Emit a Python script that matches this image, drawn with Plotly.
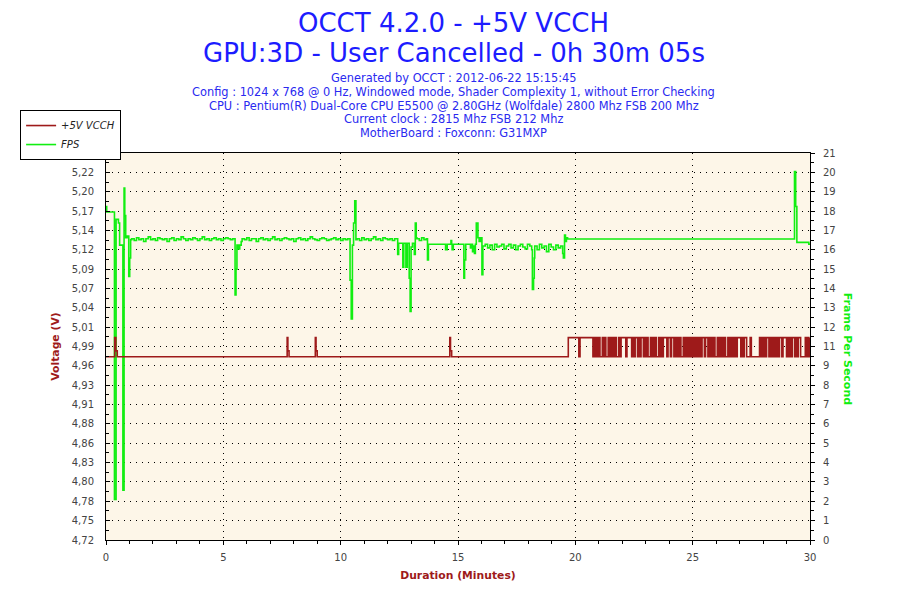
import numpy as np
import plotly.graph_objects as go

# ---- chart data ----
# FPS: isolated events as explicit (minute, fps) pairs
fps_event_t = [0.00, 0.03, 0.36, 0.43, 0.53, 0.58, 0.72, 0.77, 0.80, 0.84, 0.90, 0.97, 1.01, 1.05,
               5.50, 5.54, 5.58, 5.64, 5.70, 5.76,
               10.40, 10.45, 10.50, 10.55, 10.60, 10.65,
               12.43, 12.47, 12.65, 12.69, 12.78, 12.84, 12.92, 12.96, 13.00, 13.06, 13.14, 13.18, 13.22,
               13.70, 13.74, 14.47, 14.54, 14.70, 14.73, 14.75, 14.80, 15.25, 15.28, 15.33,
               15.53, 15.58, 15.62, 15.66, 15.70, 15.74, 15.78, 15.85, 15.90, 15.96, 16.02,
               18.14, 18.17, 18.22, 18.25,
               19.46, 19.49, 19.54, 19.58, 19.62, 19.67, 29.34, 29.39, 29.44, 29.95, 30.00]
fps_event_v = [18.1, 17.8, 2.2, 17.4, 17.2, 16.0, 2.7, 19.1, 17.6, 16.4, 16.5, 14.3, 15.3, 16.3,
               13.3, 14.7, 16.0, 15.8, 16.0, 16.2,
               14.1, 12.0, 16.0, 17.2, 18.4, 16.3,
               15.5, 16.1, 14.8, 16.1, 14.8, 16.1, 14.2, 12.4, 15.9, 16.1, 15.5, 17.2, 16.4,
               15.2, 16.05, 15.75, 16.05, 16.25, 16.05, 15.75, 16.05, 14.2, 15.2, 16.05,
               15.85, 16.05, 15.65, 15.95, 15.55, 16.05, 17.2, 16.4, 16.2, 16.4, 14.4,
               15.75, 13.6, 14.2, 15.3,
               15.55, 15.3, 16.55, 16.2, 16.4, 16.33, 20.0, 18.1, 16.15, 16.05, 16.05]

# FPS: noisy stretches, one sample every 0.1 minute
noise_step = 0.1
noise_a_start = 1.1
noise_a = [16.35, 16.25, 16.4, 16.3, 16.35, 16.2, 16.35, 16.45, 16.3, 16.35,
           16.25, 16.4, 16.35, 16.3, 16.35, 16.2, 16.35, 16.4, 16.25, 16.35,
           16.3, 16.45, 16.35, 16.25, 16.35, 16.3, 16.4, 16.35, 16.25, 16.35,
           16.45, 16.3, 16.35, 16.25, 16.35, 16.4, 16.3, 16.35, 16.25, 16.35,
           16.4, 16.35, 16.3, 16.35]
noise_b_start = 5.8
noise_b = [16.35, 16.3, 16.4, 16.25, 16.35, 16.35, 16.2, 16.35, 16.4, 16.3,
           16.35, 16.25, 16.35, 16.45, 16.3, 16.35, 16.25, 16.35, 16.4, 16.35,
           16.3, 16.35, 16.2, 16.35, 16.4, 16.3, 16.35, 16.25, 16.35, 16.45,
           16.35, 16.3, 16.25, 16.35, 16.4, 16.35, 16.25, 16.3, 16.35, 16.4,
           16.3, 16.35, 16.25, 16.35, 16.3, 16.35]
noise_c_start = 10.7
noise_c = [16.35, 16.25, 16.4, 16.3, 16.35, 16.25, 16.35, 16.45, 16.3, 16.35,
           16.25, 16.4, 16.35, 16.3, 16.35, 16.25, 16.35]
noise_d_start = 13.25
noise_d = [16.35, 16.25, 16.4, 16.3, 16.35]
noise_e_start = 16.06
noise_e = [15.95, 16.05, 15.85, 16.0, 15.75, 16.05, 15.9, 15.95, 16.05, 15.8,
           15.95, 16.05, 15.85, 16.0, 15.75, 15.95, 16.05, 15.9, 15.8, 16.05, 15.95]
noise_f_start = 18.27
noise_f = [15.95, 15.75, 16.05, 15.85, 15.95, 15.65, 16.05, 15.9, 15.75, 16.0, 15.85, 15.95]

# Voltage: isolated events
volt_event_t = [0.00, 0.37, 0.42, 0.48, 7.72, 7.75, 7.80, 8.92, 8.95, 9.00, 14.65, 14.68, 14.73]
volt_event_v = [4.973, 4.999, 4.981, 4.973, 4.999, 4.981, 4.973, 4.999, 4.981, 4.973, 4.999, 4.981, 4.973]

# Voltage after ~19.7 min flips between two readings (1 = high, 0 = low), one sample / 0.05 min
volt_high = 4.999
volt_low = 4.973
volt_flip_start = 19.70
volt_flip_step = 0.05
volt_flips = [1, 1, 1, 1, 1, 1, 1, 1, 1, 0, 1, 1, 1, 1, 1, 1, 1, 1, 1, 1, 1,
              0, 1, 0, 1,
              0, 1, 0, 0, 1, 0, 1, 0, 0, 1, 0, 1, 0,
              1, 0, 1, 0, 0, 1, 0, 1,
              1, 1, 1, 0, 1, 1, 1, 1, 0, 1,
              0, 1, 1, 0, 1, 0, 1, 1,
              0, 1, 0, 1, 0, 0, 1, 0, 1, 0, 1, 0, 0, 1, 0, 1, 0, 1,
              1, 1, 0, 1, 1, 0, 1, 1,
              0, 1, 0, 1, 0, 1, 0, 0, 1, 0, 1, 0, 1, 0, 1, 0, 1,
              0, 1, 0, 1, 0, 1, 0,
              1, 1, 0, 1, 1, 0,
              1, 0, 1, 0, 1, 0, 0, 1, 0, 1, 0, 1, 0, 1, 0, 0, 1, 0, 1, 0, 1, 0, 1, 0, 1,
              1, 1, 0, 1, 0, 1, 1, 0,
              0, 0, 1, 0, 0, 0, 0, 0, 0, 0,
              1, 0, 1, 0, 1, 0, 1, 1, 0, 1, 0, 1, 0, 1, 0, 1, 0,
              1, 1, 0, 1, 1, 1, 0,
              1, 0, 1, 0, 1, 1, 0, 1, 0, 1, 1,
              0, 0, 0, 0,
              1, 0, 1, 0, 1]

# axis tick labels as OCCT prints them
volt_range = [4.724, 5.250]
volt_labels = ["4,72", "4,75", "4,78", "4,80", "4,83", "4,86", "4,88", "4,91", "4,93", "4,96", "4,99",
               "5,01", "5,04", "5,07", "5,09", "5,12", "5,14", "5,17", "5,20", "5,22", "5,25"]
fps_range = [0, 21]
fps_labels = ["0", "1", "2", "3", "4", "5", "6", "7", "8", "9", "11",
              "12", "13", "14", "15", "16", "17", "18", "19", "20", "21"]
minute_ticks = [0, 5, 10, 15, 20, 25, 30]

title_lines = ["OCCT 4.2.0 - +5V VCCH", "GPU:3D - User Cancelled - 0h 30m 05s"]
info_lines = ["Generated by OCCT : 2012-06-22 15:15:45",
              "Config : 1024 x 768 @ 0 Hz, Windowed mode, Shader Complexity 1, without Error Checking",
              "CPU : Pentium(R) Dual-Core CPU E5500 @ 2.80GHz (Wolfdale) 2800 Mhz FSB 200 Mhz",
              "Current clock : 2815 Mhz FSB 212 Mhz",
              "MotherBoard : Foxconn: G31MXP"]

RED = "#9e1a1a"
GREEN = "#11ee11"
BLUE = "#1c1cff"
FONT = "DejaVu Sans"


def build_fps():
    t = list(fps_event_t)
    v = list(fps_event_v)
    for start, vals in [(noise_a_start, noise_a), (noise_b_start, noise_b), (noise_c_start, noise_c),
                        (noise_d_start, noise_d), (noise_e_start, noise_e), (noise_f_start, noise_f)]:
        t += list(start + noise_step * np.arange(len(vals)))
        v += vals
    order = np.argsort(t)
    return np.array(t)[order], np.array(v)[order]


def build_volt():
    flip_t = volt_flip_start + volt_flip_step * np.arange(len(volt_flips))
    flip_v = [volt_high if b else volt_low for b in volt_flips]
    return list(volt_event_t) + list(flip_t), list(volt_event_v) + flip_v


fps_t, fps_v = build_fps()
volt_t, volt_v = build_volt()

fig = go.Figure()
fig.add_trace(go.Scatter(x=volt_t, y=volt_v, mode='lines', name='<i>+5V VCCH</i>',
                         line={'color': RED, 'width': 1.6, 'shape': 'hv'}, yaxis='y2'))
fig.add_trace(go.Scatter(x=fps_t, y=fps_v, mode='lines', name='<i>FPS</i>',
                         line={'color': GREEN, 'width': 1.6, 'shape': 'hv'}, yaxis='y'))

tick_font = dict(family=FONT, size=10, color="#444444")
dotted = "1px,5px"

# page body has an 8px margin, so the figure is sized to sit inside it
fig.update_layout(
    width=884, height=584,
    margin=dict(l=90, r=82, t=145, b=46),
    paper_bgcolor="white",
    plot_bgcolor="#fdf6e8",
    font=dict(family=FONT),
    showlegend=True,
    legend=dict(x=-0.122, y=1.111, xanchor='left', yanchor='top',
                bgcolor="white", bordercolor="black", borderwidth=1,
                font=dict(family=FONT, size=10, color="#222222"),
                tracegroupgap=0, itemwidth=30),
    xaxis=dict(range=[0, 30], tickvals=minute_ticks, ticks='outside', ticklen=4,
               tickcolor='black', showline=True, linecolor='black', linewidth=1, mirror=True,
               showgrid=True, gridcolor='black', gridwidth=1, griddash=dotted,
               zeroline=False, tickfont=tick_font, ticklabelstandoff=4,
               minor=dict(dtick=1, tick0=0, ticks='outside', ticklen=3, tickcolor='black', showgrid=False),
               title=dict(text="<b>Duration (Minutes)</b>", font=dict(family=FONT, size=10.8, color=RED),
                          standoff=9)),
    yaxis=dict(range=fps_range, side='right',
               tickvals=list(np.linspace(fps_range[0], fps_range[1], len(fps_labels))), ticktext=fps_labels,
               ticks='outside', ticklen=4, tickcolor='black',
               showline=True, linecolor='black', linewidth=1,
               showgrid=True, gridcolor='black', gridwidth=1, griddash=dotted,
               zeroline=False, tickfont=tick_font, ticklabelstandoff=6,
               minor=dict(tick0=0, dtick=(fps_range[1] - fps_range[0]) / 40, ticks='outside', ticklen=3,
                          tickcolor='black', showgrid=False)),
    yaxis2=dict(range=volt_range, side='left', overlaying='y',
                tickvals=list(np.linspace(volt_range[0], volt_range[1], len(volt_labels))), ticktext=volt_labels,
                ticks='inside', ticklen=4, tickcolor='black',
                showline=True, linecolor='black', linewidth=1,
                showgrid=False, zeroline=False, tickfont=tick_font, ticklabelstandoff=9,
                minor=dict(tick0=volt_range[0], dtick=(volt_range[1] - volt_range[0]) / 40, ticks='inside',
                           ticklen=3, tickcolor='black', showgrid=False),
                title=dict(text="<b>Voltage (V)</b>", font=dict(family=FONT, size=10.8, color=RED), standoff=9)),
)

# titles and info lines above the plot
fig.add_annotation(text=title_lines[0], xref='paper', yref='paper', x=0.4943, y=1.3363,
                   xanchor='center', yanchor='middle', showarrow=False,
                   font=dict(family=FONT, size=26, color=BLUE))
fig.add_annotation(text=title_lines[1], xref='paper', yref='paper', x=0.4943, y=1.2581,
                   xanchor='center', yanchor='middle', showarrow=False,
                   font=dict(family=FONT, size=26, color=BLUE))
for i, line in enumerate(info_lines):
    fig.add_annotation(text=line, xref='paper', yref='paper', x=0.4943, y=1.1936 - i * 0.03567,
                       xanchor='center', yanchor='middle', showarrow=False,
                       font=dict(family=FONT, size=11.4, color="#2a2af0"))

# right axis title reads top to bottom
fig.add_annotation(text="<b>Frame Per Second</b>", xref='paper', yref='paper', x=1.0524, y=0.4944,
                   xanchor='center', yanchor='middle', textangle=90, showarrow=False,
                   font=dict(family=FONT, size=11, color=GREEN))

fig.write_html("out.html")
